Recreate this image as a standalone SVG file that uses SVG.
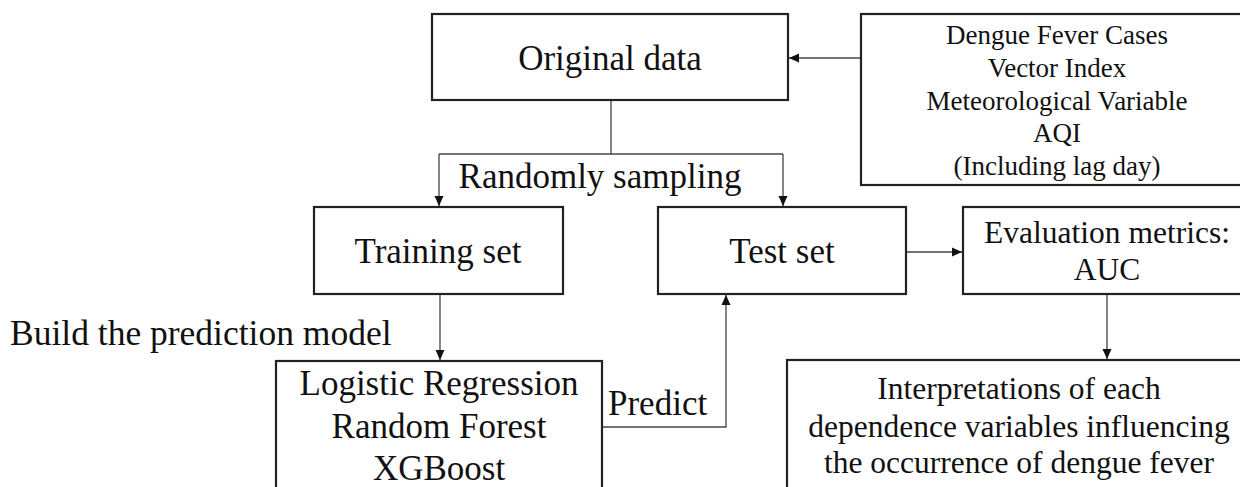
<svg xmlns="http://www.w3.org/2000/svg" width="1240" height="487" viewBox="0 0 1240 487">
<style>
.box{fill:#fff;stroke:#222;stroke-width:2.2}
.t{font-family:"Liberation Serif","Times New Roman",serif;fill:#111;text-anchor:middle}
.l{font-size:35px}
.m{font-size:31.5px}
.s{font-size:27px}
.c{fill:none;stroke:#444;stroke-width:1.3}
</style>
<defs>
<marker id="ah" viewBox="0 0 10 10" refX="10" refY="5" markerWidth="10" markerHeight="10" markerUnits="userSpaceOnUse" orient="auto">
<path d="M0,0.5 L10,5 L0,9.5 Z" fill="#111"/>
</marker>
</defs>
<rect width="1240" height="487" fill="#fff"/>
<g id="connectors">
<path class="c" d="M611,100 V154"/>
<path class="c" d="M439,154 H783"/>
<path class="c" d="M439,154 V206" marker-end="url(#ah)"/>
<path class="c" d="M783,154 V206" marker-end="url(#ah)"/>
<path class="c" d="M861,58 H789" marker-end="url(#ah)"/>
<path class="c" d="M906,252 H962" marker-end="url(#ah)"/>
<path class="c" d="M440,294 V360" marker-end="url(#ah)"/>
<path class="c" d="M602,427 H726 V295" marker-end="url(#ah)"/>
<path class="c" d="M1107,294 V359" marker-end="url(#ah)"/>
</g>
<g id="original">
<rect class="box" x="432" y="14" width="356" height="86"/>
<text class="t l" x="610" y="70">Original data</text>
</g>
<g id="sources">
<rect class="box" x="861" y="14" width="390" height="171"/>
<text class="t s" x="1057" y="44">Dengue Fever Cases</text>
<text class="t s" x="1057" y="77">Vector Index</text>
<text class="t s" x="1057" y="110">Meteorological Variable</text>
<text class="t s" x="1057" y="142">AQI</text>
<text class="t s" x="1057" y="175">(Including lag day)</text>
</g>
<g id="sampling-label">
<text class="t l" x="600" y="188">Randomly sampling</text>
</g>
<g id="training">
<rect class="box" x="314" y="207" width="249" height="87"/>
<text class="t l" x="438" y="263">Training set</text>
</g>
<g id="test">
<rect class="box" x="658" y="207" width="248" height="87"/>
<text class="t l" x="782" y="263">Test set</text>
</g>
<g id="evaluation">
<rect class="box" x="963" y="207" width="290" height="87"/>
<text class="t m" x="1107" y="243">Evaluation metrics:</text>
<text class="t m" x="1107" y="280">AUC</text>
</g>
<g id="build-label">
<text class="t l" x="10" y="345" style="text-anchor:start;font-size:35.5px">Build the prediction model</text>
</g>
<g id="models">
<rect class="box" x="276" y="361" width="326" height="140"/>
<text class="t l" x="439" y="395">Logistic Regression</text>
<text class="t l" x="439" y="438">Random Forest</text>
<text class="t l" x="439" y="480">XGBoost</text>
</g>
<g id="predict-label">
<text class="t l" x="608" y="415" style="text-anchor:start">Predict</text>
</g>
<g id="interpretation">
<rect class="box" x="787" y="360" width="470" height="140"/>
<text class="t m" x="1019" y="399">Interpretations of each</text>
<text class="t m" x="1019" y="437">dependence variables influencing</text>
<text class="t m" x="1019" y="473">the occurrence of dengue fever</text>
</g>
</svg>
